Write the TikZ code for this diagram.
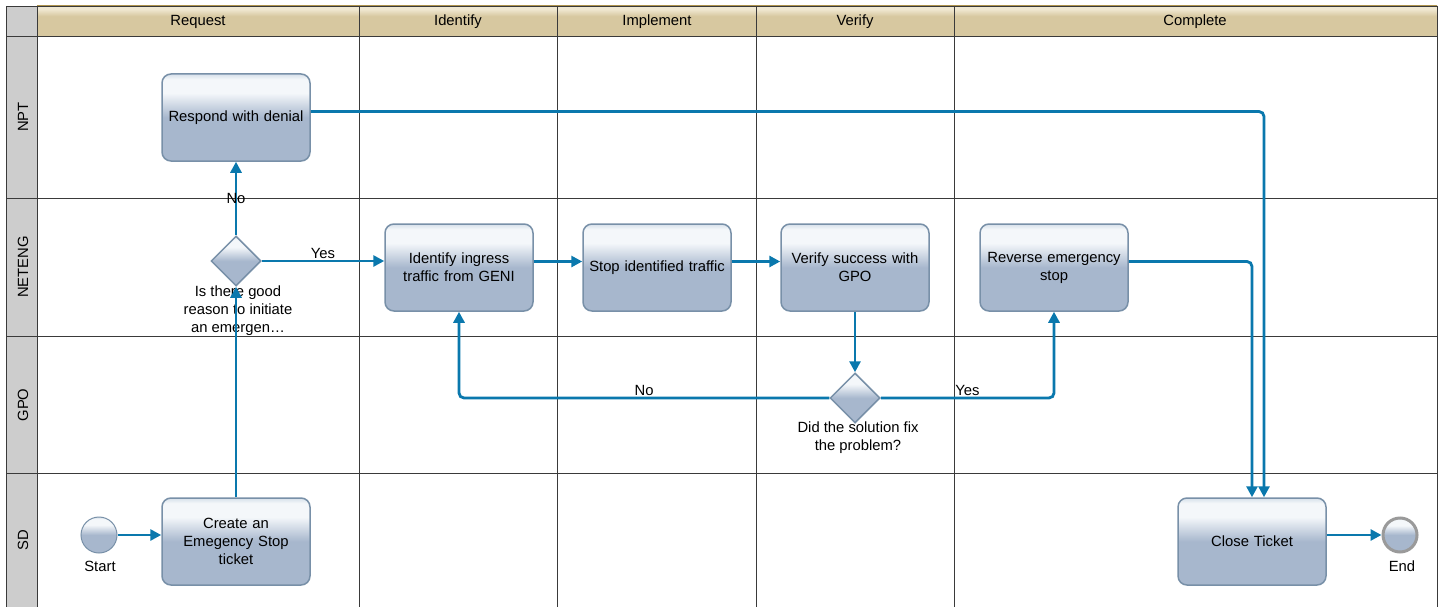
\documentclass[tikz,border=0pt]{standalone}
\usepackage{fontspec}
\setmainfont{Liberation Sans}
\usetikzlibrary{shapes.geometric,arrows.meta}
\definecolor{flow}{HTML}{0A78AD}
\definecolor{boxb}{HTML}{A7B7CD}
\definecolor{boxw}{HTML}{F4F7FA}
\definecolor{boxtop}{HTML}{D6E0EA}
\definecolor{boxline}{HTML}{7890A8}
\definecolor{hdrb}{HTML}{D7C8A0}
\definecolor{hdrt}{HTML}{F0E8D2}
\definecolor{lanegray}{HTML}{CDCDCD}
\definecolor{gridc}{HTML}{3A3A3A}
\definecolor{endgray}{HTML}{9A9A9A}
\pgfdeclareverticalshading{boxshade}{100bp}{color(0bp)=(boxb); color(50bp)=(boxb); color(64bp)=(boxw); color(72bp)=(boxw); color(75bp)=(boxtop); color(100bp)=(boxtop)}
\pgfdeclareverticalshading{hdrshade}{100bp}{color(0bp)=(hdrb); color(58bp)=(hdrb); color(70bp)=(hdrt); color(74bp)=(hdrt); color(75bp)=(hdrb); color(100bp)=(hdrb)}
\begin{document}
\begin{tikzpicture}[x=1pt,y=-1pt,
  every node/.style={font=\fontsize{14.8}{18}\selectfont, text=black},
  gridline/.style={draw=gridc, line width=0.9pt},
  task/.style={draw=boxline, line width=1.5pt, rounded corners=9pt, shading=boxshade,
    minimum width=148pt, minimum height=87pt, text width=144pt, align=center, inner sep=0pt},
  gate/.style={draw=boxline, line width=1.5pt, shape=diamond, shading=boxshade,
    minimum width=50pt, minimum height=50pt, inner sep=0pt},
  startev/.style={circle, draw=boxline, line width=1pt, shading=boxshade, minimum size=36pt, inner sep=0pt},
  endev/.style={circle, draw=endgray, line width=3pt, shading=boxshade, minimum size=34pt, inner sep=0pt},
  lbl/.style={align=center, inner sep=0pt},
  lanelbl/.style={rotate=90, inner sep=0pt},
  hdr/.style={inner sep=0pt},
  flowline/.style={draw=flow, line width=2.8pt, rounded corners=5pt, -{Triangle[length=11pt,width=11pt]}}
]
\useasboundingbox (0,0) rectangle (1442,607);
% lane label column and header
\fill[white] (0,0) rectangle (1442,607);
\fill[lanegray] (6,6) rectangle (37,607);
\shade[shading=hdrshade] (37,6) rectangle (1437,36);
% grid
\draw[gridline] (6,607) -- (6,6) -- (1437,6) -- (1437,607);
\draw[gridline] (37,6) -- (37,607);
\foreach \xx in {359,557,756,954} \draw[gridline] (\xx,6) -- (\xx,607);
\foreach \yy in {36,198,336,473} \draw[gridline] (6,\yy) -- (1437,\yy);
% headers
\node[hdr] (hreq) at (198,22) {Request};
\node[hdr] (hid) at (458,22) {Identify};
\node[hdr] (himp) at (657,22) {Implement};
\node[hdr] (hver) at (855,22) {Verify};
\node[hdr] (hcom) at (1195,22) {Complete};
% lane labels
\node[lanelbl] (lnpt) at (23,117) {NPT};
\node[lanelbl] (lneteng) at (23,267) {NETENG};
\node[lanelbl] (lgpo) at (23,405) {GPO};
\node[lanelbl] (lsd) at (23,540) {SD};
% nodes
\node[task] (resp) at (236,117.5) {Respond with denial};
\node[gate] (d1) at (236,261) {};
\node[lbl] (d1l) at (238,311) {Is there good\\reason to initiate\\an emergen\dots};
\node[task] (ident) at (459,267.5) {Identify ingress\\traffic from GENI};
\node[task] (stop) at (657,267.5) {Stop identified traffic};
\node[task] (verify) at (855,267.5) {Verify success with\\GPO};
\node[task] (rev) at (1054,267.5) {Reverse emergency\\stop};
\node[gate] (d2) at (855,398) {};
\node[lbl] (d2l) at (858,438) {Did the solution fix\\the problem?};
\node[task] (create) at (236,541.5) {Create an\\Emegency Stop\\ticket};
\node[startev] (start) at (99,535) {};
\node[lbl] (startl) at (100,566) {Start};
\node[task] (close) at (1252,541.5) {Close Ticket};
\node[endev] (endn) at (1400,535) {};
\node[lbl] (endl) at (1402,566) {End};
% flows
\draw[flowline] (start) -- (start -| create.west);
\draw[flowline] (create.north) -- (d1.south);
\draw[flowline] (d1.north) -- node[lbl, pos=0.5] (nol) {No} (resp.south);
\draw[flowline] (d1.east) -- node[lbl, pos=0.5, yshift=8pt] (yesl) {Yes} (d1.east -| ident.west);
\draw[flowline] ([yshift=6pt]ident.east) -- ([yshift=6pt]stop.west);
\draw[flowline] ([yshift=6pt]stop.east) -- ([yshift=6pt]verify.west);
\draw[flowline] (verify.south) -- (d2.north);
\draw[flowline] (d2.west) -| node[lbl, pos=0.25, yshift=8pt] (no2l) {No} (ident.south);
\draw[flowline] (d2.east) -| node[lbl, pos=0.25, yshift=8pt] (yes2l) {Yes} (rev.south);
\draw[flowline] ([yshift=6pt]rev.east) -| (close.north);
\draw[flowline] ([yshift=6pt]resp.east) -| ([xshift=12pt]close.north);
\draw[flowline] (close.east |- endn) -- (endn.west);
\end{tikzpicture}
\end{document}
